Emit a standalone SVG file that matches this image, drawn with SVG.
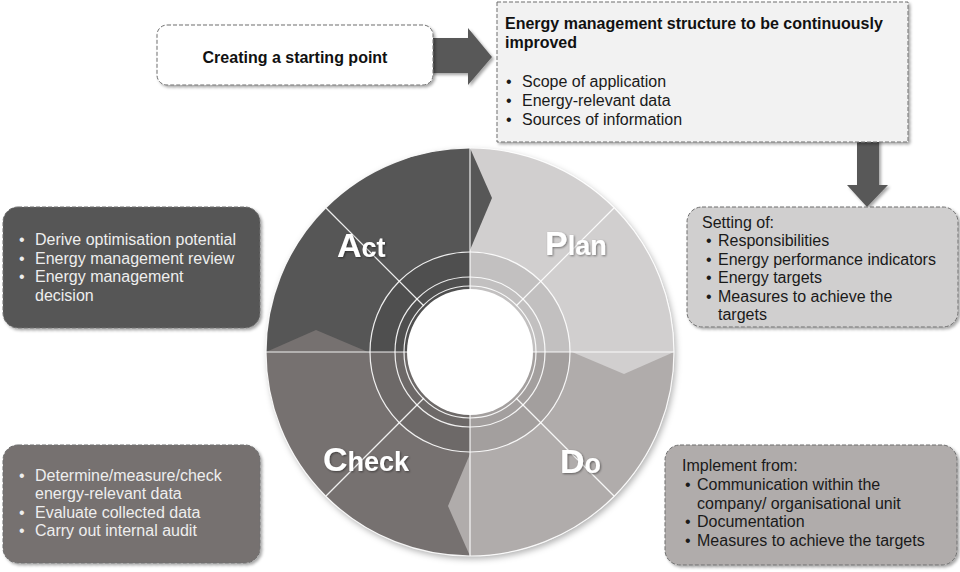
<svg xmlns="http://www.w3.org/2000/svg" width="960" height="572" viewBox="0 0 960 572">
<defs>
<filter id="sh" x="-10%" y="-10%" width="130%" height="130%">
<feDropShadow dx="2" dy="2" stdDeviation="1.5" flood-color="#000" flood-opacity="0.35"/>
</filter>
<filter id="tsh" x="-10%" y="-20%" width="130%" height="150%">
<feDropShadow dx="1" dy="1" stdDeviation="1" flood-color="#000" flood-opacity="0.45"/>
</filter>
<filter id="wsh" x="-10%" y="-10%" width="120%" height="120%">
<feDropShadow dx="2" dy="3" stdDeviation="3" flood-color="#000" flood-opacity="0.3"/>
</filter>
</defs>
<style>
text{font-family:"Liberation Sans",Arial,sans-serif;font-size:16px}
.box{stroke:#6f6f6f;stroke-width:1;stroke-dasharray:4 2;filter:url(#sh)}
.b{font-weight:bold;fill:#111}
.dk{fill:#1a1a1a}
.lt{fill:#eeeeee}
.lbl{font-weight:bold;fill:#fff;filter:url(#tsh)}
.wl{stroke:#fff;stroke-width:1.2;fill:none;opacity:0.9}
.arr{fill:#595959;filter:url(#sh)}
</style>

<g id="node-cycle">
<g filter="url(#wsh)">
<path d="M470,352 L266,352 A204,204 0 0 1 470,148 Z" fill="#575757"/>
<path d="M470,352 L470,148 A204,204 0 0 1 674,352 Z" fill="#d1cfcf"/>
<path d="M470,352 L674,352 A204,204 0 0 1 470,556 Z" fill="#b0acab"/>
<path d="M470,352 L470,556 A204,204 0 0 1 266,352 Z" fill="#767170"/>
</g>
<polygon points="470,148 492,198 470,250" fill="#575757"/>
<polygon points="674,352 624,374 572,352" fill="#d1cfcf"/>
<polygon points="470,556 448,506 470,454" fill="#b0acab"/>
<polygon points="266,352 316,330 368,352" fill="#767170"/>
<circle cx="470" cy="352" r="100" fill="#000" opacity="0.07"/>
<circle cx="470" cy="352" r="204" class="wl" stroke-width="1"/>
<circle cx="470" cy="352" r="100" class="wl"/>
<circle cx="470" cy="352" r="75" class="wl"/>
<circle cx="470" cy="352" r="66" class="wl"/>
<circle cx="470" cy="352" r="63" fill="#fff"/>
<line x1="470" y1="148" x2="470" y2="289" class="wl"/>
<line x1="470" y1="415" x2="470" y2="556" class="wl"/>
<line x1="266" y1="352" x2="407" y2="352" class="wl"/>
<line x1="533" y1="352" x2="674" y2="352" class="wl"/>
<line x1="326" y1="208" x2="424" y2="306" class="wl"/>
<line x1="614" y1="208" x2="516" y2="306" class="wl"/>
<line x1="614" y1="496" x2="516" y2="398" class="wl"/>
<line x1="326" y1="496" x2="424" y2="398" class="wl"/>
<text x="337" y="257" class="lbl"><tspan font-size="34">A</tspan><tspan font-size="27">ct</tspan></text>
<text x="545" y="255" class="lbl"><tspan font-size="34">P</tspan><tspan font-size="27">lan</tspan></text>
<text x="323" y="471" class="lbl"><tspan font-size="34">C</tspan><tspan font-size="27">heck</tspan></text>
<text x="560" y="473" class="lbl"><tspan font-size="34">D</tspan><tspan font-size="27">o</tspan></text>
</g>

<g id="connectors">
<polygon class="arr" points="425,38 468,38 468,28 492,57 468,85 468,73 425,73"/>
<polygon class="arr" points="857,130 879,130 879,185 888,185 867,207 847,185 857,185"/>
</g>

<g id="node-start">
<rect class="box" x="157" y="25" width="276" height="60" rx="10" fill="#fff"/>
<text x="295" y="63" class="b" text-anchor="middle">Creating a starting point</text>
</g>

<g id="node-structure">
<rect class="box" x="497" y="2" width="411" height="140" fill="#f2f2f2"/>
<text x="505" y="29" class="b">Energy management structure to be continuously</text>
<text x="505" y="48" class="b">improved</text>
<text class="dk"><tspan x="506" y="87">•</tspan><tspan x="522" y="87">Scope of application</tspan><tspan x="506" y="106">•</tspan><tspan x="522" y="106">Energy-relevant data</tspan><tspan x="506" y="125">•</tspan><tspan x="522" y="125">Sources of information</tspan></text>
</g>

<g id="node-plan-box">
<rect class="box" x="687" y="207" width="271" height="120" rx="15" fill="#d0cfcf"/>
<text class="dk"><tspan x="702" y="227.5">Setting of:</tspan><tspan x="706" y="246">•</tspan><tspan x="718" y="246">Responsibilities</tspan><tspan x="706" y="264.5">•</tspan><tspan x="718" y="264.5">Energy performance indicators</tspan><tspan x="706" y="283">•</tspan><tspan x="718" y="283">Energy targets</tspan><tspan x="706" y="301.5">•</tspan><tspan x="718" y="301.5">Measures to achieve the</tspan><tspan x="718" y="320">targets</tspan></text>
</g>

<g id="node-do-box">
<rect class="box" x="665" y="445" width="292" height="120" rx="15" fill="#b0acab"/>
<text class="dk"><tspan x="682" y="471">Implement from:</tspan><tspan x="685" y="490">•</tspan><tspan x="697" y="490">Communication within the</tspan><tspan x="697" y="508.5">company/ organisational unit</tspan><tspan x="685" y="527">•</tspan><tspan x="697" y="527">Documentation</tspan><tspan x="685" y="545.5">•</tspan><tspan x="697" y="545.5">Measures to achieve the targets</tspan></text>
</g>

<g id="node-check-box">
<rect class="box" x="3" y="445" width="257" height="118" rx="15" fill="#767170"/>
<text class="lt"><tspan x="19" y="480.5">•</tspan><tspan x="35" y="480.5">Determine/measure/check</tspan><tspan x="35" y="499">energy-relevant data</tspan><tspan x="19" y="517.5">•</tspan><tspan x="35" y="517.5">Evaluate collected data</tspan><tspan x="19" y="536">•</tspan><tspan x="35" y="536">Carry out internal audit</tspan></text>
</g>

<g id="node-act-box">
<rect class="box" x="3" y="207" width="257" height="121" rx="15" fill="#575757"/>
<text class="lt"><tspan x="19" y="245">•</tspan><tspan x="35" y="245">Derive optimisation potential</tspan><tspan x="19" y="263.5">•</tspan><tspan x="35" y="263.5">Energy management review</tspan><tspan x="19" y="282">•</tspan><tspan x="35" y="282">Energy management</tspan><tspan x="35" y="300.5">decision</tspan></text>
</g>
</svg>
